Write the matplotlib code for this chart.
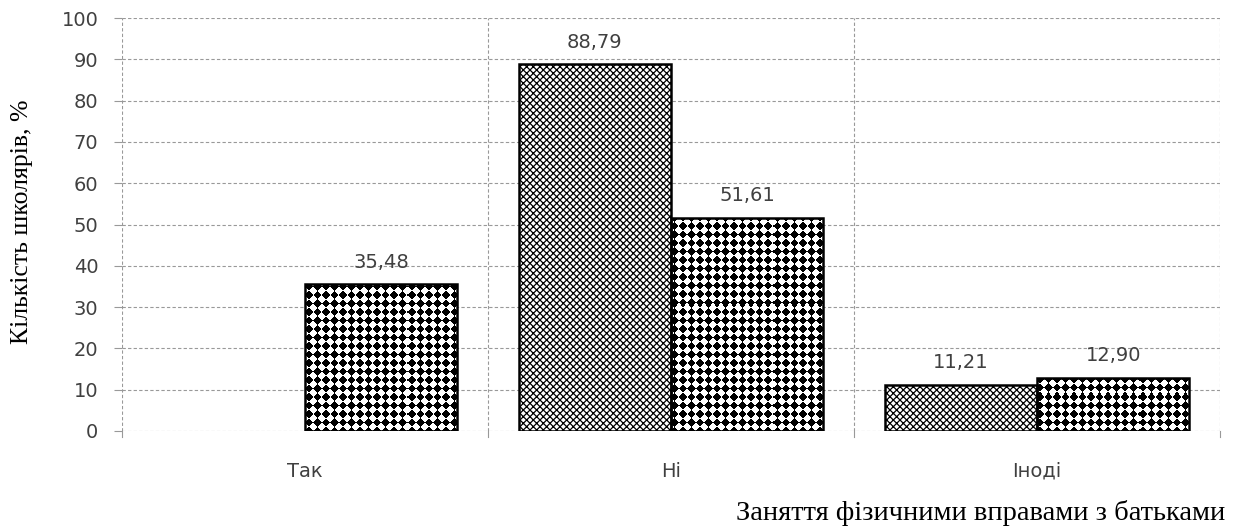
import matplotlib
matplotlib.use("Agg")
import matplotlib.pyplot as plt
import numpy as np

categories = ["Так", "Ні", "Іноді"]
series1 = [0, 88.79, 11.21]
series2 = [35.48, 51.61, 12.90]
labels1 = ["", "88,79", "11,21"]
labels2 = ["35,48", "51,61", "12,90"]
yticks = [0, 10, 20, 30, 40, 50, 60, 70, 80, 90, 100]

W_PX, H_PX = 1238, 531
AX_L, AX_R, AX_T, AX_B = 122, 1220, 18, 431

fig = plt.figure(figsize=(W_PX/100, H_PX/100), dpi=100)
ax = fig.add_axes([AX_L/W_PX, 1-AX_B/H_PX, (AX_R-AX_L)/W_PX, (AX_B-AX_T)/H_PX])

x = np.arange(len(categories))
w = 0.416
plt.rcParams['hatch.linewidth'] = 0.9
b1 = ax.bar(x - w/2, series1, w, color="white", edgecolor="black", hatch="xxxxx", linewidth=1.8, zorder=3)
for p, v in zip(b1, series1):
    if hasattr(p, "set_hatch_linewidth"):
        p.set_hatch_linewidth(0.9)
    if v == 0:
        p.set_visible(False)
b2 = ax.bar(x + w/2, series2, w, facecolor="none", edgecolor="black", linewidth=1.8, zorder=3)

# diamond texture (black diamonds on white) for second series, clipped to each bar
tw, th = AX_R - AX_L, AX_B - AX_T
P = 8.5
xx, yy = np.meshgrid(np.arange(tw) + 0.5, np.arange(th) + 0.5)
a = np.floor((xx + yy) / P + 0.5)
b = np.floor((xx - yy) / P + 0.5)
tex = ((a + b) % 2 == 0).astype(float)
for p in b2:
    im = ax.imshow(1 - tex, cmap="gray", vmin=0, vmax=1, extent=(-0.5, 2.5, 0, 100),
                   origin="lower", interpolation="nearest", aspect="auto", zorder=2.9)
    im.set_clip_path(p)

for i, bb in enumerate(b1):
    if series1[i] > 0:
        ax.annotate(labels1[i], (bb.get_x()+bb.get_width()/2, bb.get_height()), xytext=(0, 9),
                    textcoords="offset points", ha="center", va="bottom", fontsize=14, color="#404040")
for i, bb in enumerate(b2):
    ax.annotate(labels2[i], (bb.get_x()+bb.get_width()/2, bb.get_height()), xytext=(0, 9),
                textcoords="offset points", ha="center", va="bottom", fontsize=14, color="#404040")

ax.set_xlim(-0.5, 2.5)
ax.set_ylim(0, 100)
ax.set_yticks(yticks)
ax.set_yticklabels([str(v) for v in yticks], fontsize=14, color="#404040")
ax.set_xticks(x)
ax.set_xticklabels(categories, fontsize=14, color="#404040")
ax.tick_params(axis='x', length=0, pad=22)
ax.tick_params(axis='y', length=6, color="#999999", pad=11, direction='out')
for s in ax.spines.values():
    s.set_visible(False)
for v in yticks:
    ax.axhline(v, color="#999999", linestyle=(0, (3, 2)), linewidth=0.8, zorder=1)
for xv in [-0.5, 0.5, 1.5, 2.5]:
    ax.axvline(xv, color="#999999", linestyle=(0, (3, 2)), linewidth=0.8, zorder=1)
    ax.plot([xv, xv], [0, -1.5], color="#999999", linewidth=0.8, clip_on=False)

fig.text(22/W_PX, 1-222/H_PX, "Кількість школярів, %", family="Liberation Serif",
         fontsize=18.5, rotation=90, ha="center", va="center")
fig.text(1225/W_PX, 1-513/H_PX, "Заняття фізичними вправами з батьками", family="Liberation Serif",
         fontsize=20.5, ha="right", va="center")

fig.savefig("out.png", dpi=100)
